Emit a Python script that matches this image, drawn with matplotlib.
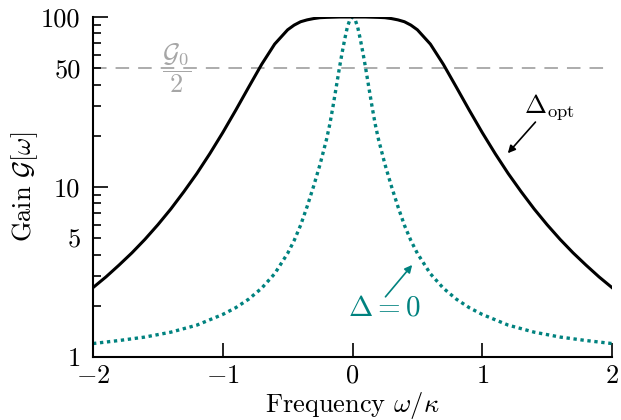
import numpy as np
import matplotlib
matplotlib.use('Agg')
import matplotlib.pyplot as plt

plt.rcParams['font.family'] = 'serif'
plt.rcParams['font.serif'] = ['cmr10']
plt.rcParams['mathtext.fontset'] = 'cm'
plt.rcParams['axes.formatter.use_mathtext'] = True

# gain curves (right half, curves are symmetric in omega)
w_opt = [0.0, 0.1, 0.2, 0.25, 0.3, 0.35, 0.4, 0.45, 0.5, 0.6, 0.7, 0.8, 0.9,
         1.0, 1.1, 1.2, 1.3, 1.4, 1.5, 1.6, 1.7, 1.8, 1.9, 2.0]
g_opt = [100, 100, 99.5, 99.1, 97.9, 96.2, 93.8, 89.6, 84.1, 69.3, 52.7, 38.7, 28.3,
         20.9, 15.7, 12.0, 9.38, 7.43, 6.0, 4.92, 4.10, 3.47, 2.96, 2.56]

w_zero = [0.0, 0.02, 0.04, 0.06, 0.08, 0.1, 0.125, 0.15, 0.175, 0.2, 0.25, 0.3,
          0.35, 0.4, 0.45, 0.5, 0.6, 0.7, 0.8, 0.9, 1.0, 1.2, 1.4, 1.6, 1.8, 2.0]
g_zero = [100, 96.6, 87.1, 74.1, 61.7, 50.7, 38.9, 29.9, 23.4, 19.1, 13.6, 10.1,
          7.67, 5.96, 4.84, 4.07, 3.09, 2.54, 2.19, 1.95, 1.78, 1.54, 1.40, 1.31, 1.25, 1.20]

G0 = 100
xticks = [-2, -1, 0, 1, 2]

def mirror(w, g):
    w = np.array(w)
    g = np.array(g)
    return np.concatenate([-w[::-1], w[1:]]), np.concatenate([g[::-1], g[1:]])

x1, y1 = mirror(w_opt, g_opt)
x2, y2 = mirror(w_zero, g_zero)

teal = '#00827f'
grey = '#a6a6a6'

fig = plt.figure(figsize=(6.21, 4.2), dpi=100)
ax = fig.add_axes([0.1498, 0.15, 0.8357, 0.8095])

ax.axhline(G0 / 2, color=grey, lw=1.3, ls=(0, (7.5, 5)), zorder=1)
ax.plot(x1, y1, color='black', lw=2.2, zorder=3)
ax.plot(x2, y2, color=teal, lw=2.4, ls=(0, (1, 1.1)), zorder=2)

ax.set_yscale('log')
ax.set_xlim(-2, 2)
ax.set_ylim(1, 100)
ax.spines['top'].set_visible(False)
ax.spines['right'].set_visible(False)
ax.spines['left'].set_linewidth(1.5)
ax.spines['bottom'].set_linewidth(1.5)

ax.set_xticks(xticks)
ax.set_yticks([1, 10, 100], labels=['1', '10', '100'])
minor = [2, 3, 4, 5, 6, 7, 8, 9, 20, 30, 40, 50, 60, 70, 80, 90]
ax.set_yticks(minor, labels=['5' if m == 5 else '50' if m == 50 else '' for m in minor],
              minor=True)
ax.tick_params(axis='x', which='major', direction='in', length=10, width=1.2,
               labelsize=19, pad=5)
ax.tick_params(axis='y', which='major', direction='in', length=11, width=1.2,
               labelsize=19, pad=9)
ax.tick_params(axis='y', which='minor', direction='in', length=5.5, width=1.2,
               labelsize=19, pad=9)

ax.set_xlabel(r'Frequency $\omega/\kappa$', fontsize=19, labelpad=2)
ax.set_ylabel(r'Gain $\mathcal{G}[\omega]$', fontsize=19, labelpad=1)

ax.text(-1.35, 50, r'$\dfrac{\mathcal{G}_0}{2}$', color=grey, fontsize=19,
        ha='center', va='center')

# Delta_opt label and arrow
ax.text(1.52, 29.5, r'$\Delta_{\mathrm{opt}}$', fontsize=19, ha='center', va='center')
ax.annotate('', xy=(1.197, 15.8), xytext=(1.41, 24.1),
            arrowprops=dict(arrowstyle='-|>', color='black', lw=1.2,
                            mutation_scale=11, shrinkA=0, shrinkB=0))

# Delta = 0 label and arrow
ax.text(0.243, 1.93, r'$\Delta = 0$', fontsize=21, color=teal, ha='center', va='center')
ax.annotate('', xy=(0.46, 3.48), xytext=(0.254, 2.26),
            arrowprops=dict(arrowstyle='-|>', color=teal, lw=1.2,
                            mutation_scale=11, shrinkA=0, shrinkB=0))

fig.savefig('out.png', dpi=100)
